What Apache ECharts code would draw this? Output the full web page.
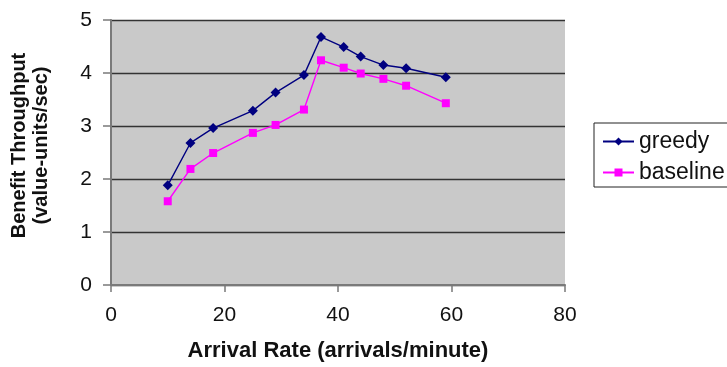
<!DOCTYPE html>
<html>
<head>
<meta charset="utf-8">
<script src="https://cdn.jsdelivr.net/npm/echarts@6/dist/echarts.min.js"></script>
<style>
  html, body { margin: 0; padding: 0; background: #fff; }
  #chart { width: 727px; height: 367px; }
</style>
</head>
<body>
<div id="chart"></div>
<script>
// arrival rate (arrivals/minute)
const arrivalRate = [10, 14, 18, 25, 29, 34, 37, 41, 44, 48, 52, 59];
// benefit throughput (value-units/sec)
const greedy = [1.88, 2.68, 2.96, 3.29, 3.63, 3.96, 4.68, 4.49, 4.31, 4.15, 4.09, 3.92];
const baseline = [1.58, 2.19, 2.49, 2.87, 3.02, 3.31, 4.24, 4.10, 3.99, 3.89, 3.76, 3.43];

const font = "'Liberation Sans', Arial, sans-serif";

const pairs = (ys) => arrivalRate.map((x, i) => [x, ys[i]]);

const myChart = echarts.init(document.getElementById('chart'));

const option = {
  animation: false,
  backgroundColor: '#fff',
  textStyle: { fontFamily: font, color: '#111' },
  grid: {
    left: 111,
    right: 162,
    top: 20,
    bottom: 79,
    show: true,
    backgroundColor: '#c9c9c9',
    borderWidth: 0
  },
  legend: {
    orient: 'vertical',
    left: 594,
    top: 123,
    borderColor: '#222',
    borderWidth: 1,
    padding: [7, 10, 3, 8],
    itemGap: 8,
    itemWidth: 31,
    itemHeight: 10,
    textStyle: { fontFamily: font, fontSize: 23, lineHeight: 22, color: '#111', padding: [0, 0, 0, 0] },
    data: ['greedy', 'baseline']
  },
  xAxis: {
    type: 'value',
    min: 0,
    max: 80,
    interval: 20,
    name: 'Arrival Rate (arrivals/minute)',
    nameLocation: 'middle',
    nameGap: 55,
    nameTextStyle: { fontFamily: font, fontSize: 22, fontWeight: 'bold', color: '#111' },
    axisLine: { show: true, lineStyle: { color: '#7a7a7a', width: 2 } },
    axisTick: { show: true, length: 7, lineStyle: { color: '#7a7a7a', width: 1.5 } },
    axisLabel: { fontFamily: font, fontSize: 21, color: '#111', margin: 20 },
    splitLine: { show: false }
  },
  yAxis: {
    type: 'value',
    min: 0,
    max: 5,
    interval: 1,
    name: 'Benefit Throughput\n(value-units/sec)',
    nameLocation: 'middle',
    nameRotate: 90,
    nameGap: 59,
    nameTextStyle: { fontFamily: font, fontSize: 20, fontWeight: 'bold', color: '#111', lineHeight: 22, padding: [0, 0, 0, 14] },
    axisLine: { show: true, lineStyle: { color: '#7a7a7a', width: 2 } },
    axisTick: { show: true, length: 8, lineStyle: { color: '#7a7a7a', width: 1.5 } },
    axisLabel: { fontFamily: font, fontSize: 21, color: '#111', margin: 19 },
    splitLine: { show: true, lineStyle: { color: '#333', width: 1.4 } }
  },
  series: [
    {
      name: 'greedy',
      type: 'line',
      data: pairs(greedy),
      symbol: 'diamond',
      symbolSize: 10,
      color: '#000080',
      lineStyle: { width: 1.4, color: '#000080' },
      itemStyle: { color: '#000080' }
    },
    {
      name: 'baseline',
      type: 'line',
      data: pairs(baseline),
      symbol: 'rect',
      symbolSize: 8,
      color: '#ff00ff',
      lineStyle: { width: 1.4, color: '#ff00ff' },
      itemStyle: { color: '#ff00ff' }
    }
  ]
};

myChart.setOption(option);
</script>
</body>
</html>
